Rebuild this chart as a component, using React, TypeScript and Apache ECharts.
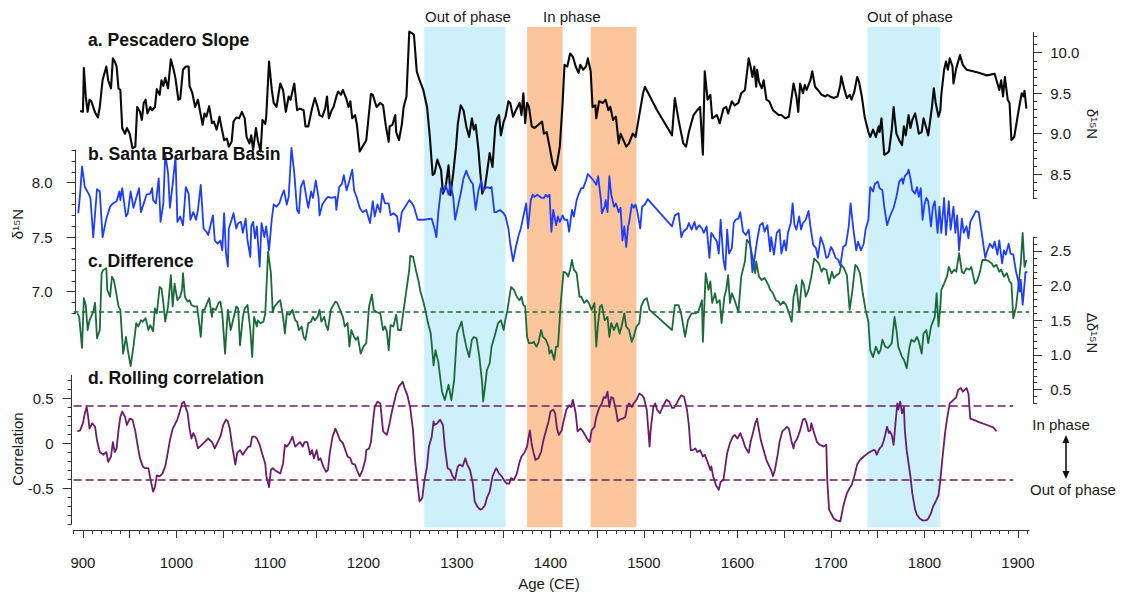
import React, { useEffect, useRef } from 'react';
import * as echarts from 'echarts';

// ---------- data ----------
const X_MIN = 890;
const X_MAX = 1912;

const pescadero: [number, number][] = [
[897,9.28],[900,9.27],[901,9.81],[903,9.46],[905,9.27],[907,9.42],[909,9.40],[913,9.26],[916,9.20],[918,9.33],[921,9.66],[925,9.83],[927,9.66],[930,9.56],[932,9.93],[934,9.89],[936,9.83],[938,9.56],[940,9.54],[942,9.07],[945,9.00],[947,9.07],[950,9.00],[953,8.82],[956,8.84],[958,9.33],[961,9.27],[963,9.17],[965,9.38],[967,9.42],[969,9.25],[972,9.33],[974,9.29],[977,9.33],[979,9.55],[982,9.48],[984,9.66],[986,9.59],[988,9.69],[991,9.56],[994,9.92],[997,9.79],[999,9.68],[1002,9.42],[1004,9.43],[1007,9.79],[1010,9.83],[1013,9.83],[1014,9.59],[1017,9.50],[1020,9.33],[1023,9.42],[1025,9.29],[1028,9.11],[1030,9.25],[1032,9.21],[1035,9.34],[1038,9.13],[1040,9.15],[1043,9.05],[1046,9.21],[1048,9.09],[1051,8.92],[1054,8.94],[1056,8.84],[1059,8.90],[1061,9.15],[1064,9.20],[1067,9.19],[1070,9.27],[1073,9.19],[1075,8.96],[1078,8.88],[1080,8.98],[1082,8.80],[1085,9.07],[1087,8.92],[1090,8.78],[1092,9.17],[1095,9.12],[1096,9.21],[1099,9.89],[1102,9.54],[1104,9.38],[1107,9.33],[1111,9.62],[1114,9.54],[1117,9.27],[1120,9.46],[1122,9.42],[1126,9.62],[1129,9.29],[1132,9.31],[1136,9.29],[1138,9.09],[1141,9.09],[1145,9.31],[1148,9.44],[1151,9.33],[1153,9.23],[1156,9.21],[1159,9.31],[1161,9.46],[1163,9.19],[1166,9.29],[1168,9.33],[1171,9.46],[1173,9.52],[1176,9.48],[1178,9.54],[1182,9.42],[1184,9.33],[1186,9.40],[1188,9.19],[1191,9.23],[1193,9.11],[1196,8.78],[1200,8.86],[1203,8.92],[1208,9.49],[1210,9.48],[1214,9.33],[1218,9.38],[1221,9.35],[1224,9.09],[1227,8.90],[1228,9.09],[1231,9.11],[1234,9.23],[1235,9.02],[1238,8.92],[1241,9.11],[1243,9.33],[1246,9.46],[1249,10.26],[1252,10.24],[1254,10.22],[1257,9.77],[1260,9.66],[1264,9.54],[1268,9.33],[1271,8.96],[1274,8.49],[1276,8.51],[1279,8.68],[1283,8.55],[1285,8.26],[1288,8.35],[1291,8.61],[1293,8.24],[1296,8.51],[1299,8.84],[1301,9.13],[1304,9.35],[1307,9.29],[1310,9.09],[1313,8.96],[1316,9.19],[1318,9.05],[1320,9.11],[1323,8.80],[1325,8.51],[1327,8.26],[1330,8.35],[1332,8.51],[1335,8.76],[1338,8.59],[1341,9.09],[1343,9.19],[1345,9.23],[1347,8.98],[1350,9.15],[1352,9.21],[1355,9.40],[1357,9.38],[1360,9.21],[1363,9.29],[1367,9.38],[1369,9.23],[1371,9.50],[1373,9.13],[1375,9.38],[1377,9.33],[1380,9.09],[1383,9.07],[1387,9.11],[1391,9.15],[1393,9.00],[1396,9.02],[1399,8.84],[1402,8.65],[1405,8.55],[1407,8.63],[1410,8.84],[1413,9.38],[1415,9.85],[1418,9.83],[1421,9.99],[1424,9.95],[1427,9.83],[1430,9.75],[1432,9.85],[1435,9.79],[1438,9.83],[1440,9.93],[1443,9.77],[1445,9.33],[1448,9.35],[1449,9.19],[1452,9.40],[1456,9.38],[1459,9.42],[1462,9.29],[1464,9.33],[1467,9.17],[1470,9.21],[1473,8.88],[1475,9.00],[1478,8.92],[1481,8.84],[1484,8.88],[1488,9.00],[1491,8.96],[1495,9.23],[1499,9.50],[1501,9.58],[1514,9.29],[1530,8.98],[1533,9.44],[1537,9.17],[1542,8.88],[1545,8.84],[1548,9.02],[1553,9.23],[1557,9.29],[1560,9.33],[1563,8.74],[1565,9.77],[1568,9.42],[1571,9.48],[1573,9.19],[1578,9.23],[1581,9.13],[1585,9.31],[1588,9.33],[1590,9.25],[1594,9.40],[1597,9.35],[1601,9.38],[1604,9.50],[1608,9.54],[1612,9.93],[1614,9.83],[1616,9.70],[1618,9.83],[1620,9.58],[1621,9.79],[1623,9.64],[1626,9.56],[1628,9.66],[1631,9.42],[1634,9.40],[1638,9.29],[1644,9.23],[1647,9.23],[1651,9.19],[1655,9.21],[1660,9.62],[1663,9.46],[1665,9.27],[1667,9.62],[1670,9.50],[1672,9.60],[1674,9.54],[1678,9.66],[1680,9.77],[1683,9.58],[1686,9.54],[1690,9.48],[1694,9.46],[1696,9.48],[1699,9.46],[1703,9.44],[1707,9.46],[1710,9.60],[1711,9.71],[1714,9.56],[1717,9.44],[1720,9.48],[1722,9.42],[1725,9.52],[1728,9.70],[1730,9.64],[1733,9.46],[1736,9.21],[1740,9.02],[1742,8.96],[1745,9.05],[1748,8.96],[1751,9.09],[1752,9.02],[1754,9.19],[1757,8.74],[1760,8.76],[1762,8.78],[1765,9.05],[1767,9.33],[1768,9.21],[1770,9.00],[1773,8.92],[1776,8.86],[1778,9.09],[1780,8.98],[1783,9.23],[1785,9.07],[1787,9.17],[1790,9.25],[1792,9.13],[1794,9.00],[1797,9.02],[1799,9.19],[1802,9.07],[1804,8.98],[1808,9.33],[1810,9.56],[1812,9.38],[1815,9.21],[1817,9.29],[1818,9.48],[1821,9.79],[1823,9.89],[1825,9.79],[1827,9.93],[1830,9.83],[1831,9.62],[1834,9.81],[1836,9.89],[1838,9.97],[1841,9.85],[1845,9.79],[1852,9.77],[1859,9.75],[1867,9.72],[1875,9.74],[1878,9.62],[1880,9.54],[1882,9.66],[1884,9.46],[1886,9.70],[1889,9.42],[1891,9.38],[1893,8.92],[1896,8.96],[1899,9.17],[1901,9.31],[1904,9.50],[1906,9.46],[1907,9.53],[1909,9.31]
];

const santaBarbara: [number, number][] = [
[895,7.72],[897,7.90],[899,8.15],[902,7.96],[906,7.90],[908,7.86],[911,7.50],[915,7.94],[918,7.92],[921,7.50],[925,7.67],[929,7.78],[932,7.81],[936,7.83],[939,7.92],[940,7.84],[942,7.95],[946,7.69],[948,7.72],[951,7.92],[954,7.77],[957,7.86],[960,7.95],[962,7.73],[965,7.81],[968,7.89],[972,7.90],[974,7.95],[975,7.84],[978,7.81],[981,8.04],[983,7.64],[986,7.81],[988,8.27],[991,8.09],[993,7.77],[996,7.99],[999,8.24],[1001,7.64],[1004,7.69],[1007,7.61],[1010,7.96],[1013,7.90],[1015,7.66],[1018,7.73],[1021,7.66],[1023,7.75],[1026,7.98],[1029,7.58],[1032,7.55],[1034,7.52],[1037,7.63],[1039,7.70],[1041,7.47],[1044,7.44],[1047,7.47],[1049,7.38],[1051,7.72],[1053,7.35],[1055,7.23],[1056,7.58],[1059,7.66],[1061,7.72],[1064,7.58],[1066,7.63],[1069,7.64],[1071,7.54],[1074,7.67],[1076,7.47],[1079,7.32],[1080,7.60],[1082,7.64],[1084,7.49],[1086,7.60],[1089,7.23],[1091,7.63],[1094,7.50],[1096,7.60],[1099,7.38],[1102,7.67],[1104,7.80],[1107,7.78],[1110,7.81],[1113,7.89],[1115,7.93],[1118,7.80],[1120,7.87],[1123,8.32],[1126,8.09],[1129,7.75],[1131,7.72],[1133,7.96],[1136,8.02],[1139,7.86],[1141,7.77],[1144,7.92],[1146,7.86],[1149,8.02],[1152,7.86],[1153,7.70],[1156,7.80],[1159,7.84],[1162,7.87],[1166,7.86],[1170,7.87],[1171,7.75],[1174,7.96],[1177,7.99],[1179,8.07],[1182,7.93],[1185,8.02],[1188,8.12],[1190,7.93],[1193,7.86],[1196,7.77],[1199,7.73],[1203,7.75],[1207,7.63],[1210,7.83],[1212,7.69],[1215,7.80],[1218,7.73],[1220,7.90],[1223,7.81],[1227,7.81],[1229,7.70],[1232,7.72],[1236,7.69],[1238,7.55],[1241,7.73],[1244,7.77],[1249,7.84],[1252,7.81],[1254,7.78],[1258,7.66],[1264,7.66],[1273,7.67],[1276,7.58],[1278,7.50],[1280,7.72],[1283,7.95],[1285,7.92],[1288,7.98],[1291,7.89],[1293,7.99],[1296,7.87],[1298,7.66],[1301,7.78],[1304,7.90],[1307,8.04],[1310,8.11],[1312,8.06],[1315,8.01],[1317,7.99],[1320,7.75],[1323,7.93],[1326,8.02],[1328,7.93],[1332,7.96],[1335,7.95],[1337,7.96],[1340,7.73],[1342,7.73],[1346,7.75],[1350,7.72],[1352,7.69],[1355,7.58],[1357,7.44],[1360,7.28],[1363,7.41],[1366,7.52],[1368,7.57],[1371,7.69],[1374,7.81],[1376,7.58],[1379,7.84],[1381,7.89],[1383,7.87],[1386,7.89],[1389,7.87],[1391,7.86],[1393,7.86],[1395,7.89],[1397,7.87],[1399,7.89],[1401,7.55],[1403,7.75],[1406,7.61],[1408,7.69],[1410,7.64],[1413,7.70],[1415,7.66],[1418,7.66],[1420,7.55],[1423,7.75],[1425,7.69],[1428,7.84],[1430,7.89],[1433,7.95],[1435,7.95],[1438,8.02],[1440,8.08],[1442,8.06],[1446,8.02],[1449,7.98],[1451,8.06],[1454,7.84],[1455,7.72],[1458,7.78],[1459,7.84],[1461,7.73],[1463,8.06],[1465,7.89],[1468,7.78],[1470,7.81],[1473,7.73],[1475,7.77],[1477,7.47],[1479,7.60],[1481,7.41],[1483,7.60],[1484,7.63],[1487,7.80],[1489,7.77],[1491,7.80],[1493,7.73],[1496,7.58],[1498,7.78],[1501,7.80],[1504,7.85],[1508,7.81],[1530,7.60],[1533,7.70],[1537,7.72],[1540,7.50],[1542,7.55],[1546,7.58],[1548,7.63],[1551,7.57],[1554,7.64],[1556,7.57],[1559,7.61],[1562,7.58],[1564,7.54],[1567,7.60],[1570,7.31],[1572,7.54],[1575,7.50],[1578,7.46],[1580,7.35],[1582,7.66],[1585,7.29],[1587,7.20],[1589,7.57],[1591,7.35],[1594,7.40],[1596,7.63],[1598,7.66],[1601,7.67],[1603,7.73],[1606,7.55],[1609,7.52],[1612,7.57],[1614,7.41],[1616,7.18],[1619,7.35],[1621,7.47],[1624,7.61],[1627,7.63],[1629,7.55],[1632,7.61],[1635,7.37],[1636,7.50],[1639,7.34],[1642,7.54],[1645,7.57],[1647,7.35],[1650,7.47],[1652,7.38],[1654,7.54],[1657,7.63],[1659,7.81],[1661,7.61],[1663,7.57],[1666,7.69],[1668,7.57],[1670,7.63],[1673,7.66],[1676,7.74],[1678,7.60],[1681,7.43],[1684,7.40],[1686,7.31],[1689,7.50],[1692,7.43],[1695,7.31],[1697,7.32],[1700,7.41],[1702,7.38],[1705,7.31],[1708,7.29],[1710,7.24],[1713,7.41],[1716,7.43],[1719,7.60],[1721,7.81],[1724,7.57],[1727,7.38],[1729,7.46],[1732,7.38],[1735,7.44],[1737,7.57],[1740,7.66],[1742,7.96],[1745,7.92],[1747,7.99],[1750,8.01],[1752,7.95],[1755,7.93],[1757,7.78],[1760,7.61],[1763,7.69],[1767,7.77],[1770,7.87],[1773,8.01],[1776,8.04],[1777,7.99],[1779,8.06],[1782,8.09],[1783,8.12],[1785,8.04],[1787,7.93],[1790,7.90],[1792,7.96],[1794,7.87],[1796,7.95],[1798,7.66],[1800,7.80],[1802,7.86],[1804,7.83],[1807,7.60],[1809,7.78],[1811,7.83],[1814,7.54],[1816,7.78],[1818,7.54],[1821,7.86],[1823,7.52],[1826,7.83],[1828,7.57],[1831,7.78],[1833,7.54],[1835,7.70],[1837,7.38],[1840,7.67],[1842,7.54],[1845,7.60],[1847,7.49],[1849,7.64],[1852,7.69],[1855,7.74],[1858,7.73],[1861,7.55],[1865,7.31],[1867,7.37],[1870,7.44],[1873,7.40],[1875,7.46],[1878,7.34],[1880,7.47],[1883,7.26],[1885,7.38],[1887,7.34],[1890,7.44],[1892,7.35],[1895,7.34],[1898,7.18],[1900,7.11],[1902,7.00],[1903,7.11],[1905,6.88],[1906,6.97],[1908,7.18],[1910,7.18]
];

const difference: [number, number][] = [
[894,1.60],[896,1.55],[899,1.10],[901,1.82],[903,1.72],[905,1.36],[907,1.50],[911,1.62],[913,1.75],[915,1.24],[918,1.36],[920,2.18],[922,2.23],[925,2.25],[926,1.94],[929,1.84],[931,2.13],[933,2.08],[935,1.94],[938,1.70],[940,1.65],[943,1.02],[946,1.26],[948,1.07],[951,0.84],[954,1.12],[957,1.46],[959,1.41],[962,1.50],[964,1.48],[967,1.53],[970,1.36],[972,1.43],[975,1.34],[977,1.67],[979,1.60],[982,1.98],[984,1.96],[986,1.75],[988,1.48],[991,1.70],[994,2.15],[996,1.70],[998,2.03],[1001,1.79],[1004,1.84],[1006,1.94],[1007,2.18],[1009,1.84],[1012,1.77],[1014,1.79],[1016,1.72],[1019,1.70],[1022,1.70],[1024,1.50],[1026,1.26],[1028,1.65],[1030,1.65],[1032,1.72],[1035,1.82],[1038,1.55],[1039,1.67],[1042,1.65],[1045,1.75],[1047,1.77],[1049,1.60],[1052,1.02],[1054,1.46],[1055,1.65],[1058,1.36],[1061,1.53],[1064,1.70],[1066,1.67],[1068,1.14],[1071,1.55],[1073,1.67],[1076,1.72],[1079,1.36],[1081,0.97],[1083,1.55],[1086,1.41],[1087,1.50],[1090,1.46],[1093,1.48],[1095,1.60],[1098,2.49],[1101,2.18],[1103,1.62],[1105,1.70],[1108,1.75],[1111,1.79],[1114,1.55],[1116,1.31],[1118,1.60],[1121,1.58],[1124,1.65],[1127,1.50],[1129,1.48],[1131,1.36],[1134,1.41],[1136,1.26],[1138,1.22],[1141,1.46],[1144,1.48],[1146,1.55],[1148,1.50],[1151,1.55],[1153,1.65],[1155,1.48],[1158,1.55],[1160,1.43],[1162,1.36],[1165,1.65],[1167,1.70],[1170,1.77],[1172,1.75],[1175,1.65],[1178,1.55],[1180,1.41],[1183,1.46],[1185,1.12],[1187,1.36],[1190,1.26],[1192,1.22],[1194,1.26],[1197,1.02],[1200,1.12],[1203,1.17],[1206,1.70],[1209,1.87],[1211,1.65],[1214,1.62],[1218,1.60],[1221,1.36],[1223,1.41],[1225,1.34],[1227,1.07],[1229,1.43],[1232,1.41],[1235,1.58],[1237,1.36],[1240,1.36],[1243,1.65],[1246,1.94],[1249,2.23],[1250,2.43],[1253,2.42],[1256,2.23],[1259,2.06],[1261,1.91],[1264,1.77],[1267,1.60],[1269,1.46],[1272,1.31],[1275,0.85],[1277,1.07],[1280,0.90],[1284,0.47],[1287,0.35],[1291,0.57],[1294,0.35],[1297,0.64],[1300,1.31],[1305,1.48],[1307,1.31],[1310,1.12],[1313,0.97],[1316,1.22],[1318,1.26],[1321,1.24],[1324,0.97],[1327,0.59],[1328,0.33],[1330,0.54],[1332,0.78],[1335,0.88],[1337,1.12],[1340,1.26],[1342,1.36],[1344,1.46],[1347,1.50],[1350,1.36],[1351,1.46],[1354,1.65],[1357,1.91],[1358,1.98],[1361,1.94],[1364,1.84],[1367,1.79],[1369,1.84],[1371,1.72],[1373,1.70],[1375,1.26],[1377,1.17],[1380,1.17],[1382,1.19],[1385,1.12],[1387,1.17],[1390,1.36],[1392,1.26],[1395,1.22],[1398,1.12],[1399,1.02],[1401,1.07],[1404,0.93],[1406,1.12],[1408,1.12],[1411,1.75],[1414,2.20],[1417,2.18],[1419,2.13],[1421,2.23],[1423,2.37],[1425,2.23],[1428,2.18],[1431,1.84],[1433,1.84],[1436,1.75],[1439,1.79],[1441,1.75],[1444,1.65],[1447,1.75],[1449,1.12],[1451,1.46],[1453,1.70],[1455,1.72],[1458,1.50],[1461,1.55],[1463,1.26],[1465,1.46],[1468,1.36],[1471,1.46],[1474,1.31],[1476,1.41],[1479,1.60],[1481,1.41],[1484,1.36],[1487,1.19],[1489,1.26],[1492,1.41],[1495,1.46],[1497,1.70],[1500,1.79],[1503,1.82],[1506,1.65],[1530,1.36],[1533,1.72],[1537,1.72],[1540,1.58],[1544,1.26],[1547,1.50],[1551,1.60],[1555,1.60],[1558,1.62],[1562,1.79],[1563,1.19],[1566,2.18],[1569,1.94],[1571,2.06],[1573,1.75],[1576,1.89],[1578,1.75],[1581,1.79],[1583,1.46],[1586,1.84],[1588,1.94],[1590,2.15],[1592,1.75],[1594,1.89],[1597,1.79],[1601,1.62],[1604,2.13],[1608,2.35],[1610,2.66],[1613,2.61],[1616,2.42],[1619,2.18],[1620,2.35],[1623,2.13],[1626,2.08],[1629,2.11],[1633,2.01],[1635,1.94],[1638,1.89],[1641,1.79],[1644,1.77],[1646,1.72],[1649,1.77],[1652,1.72],[1654,1.65],[1658,1.48],[1660,1.84],[1663,2.01],[1666,1.62],[1669,2.08],[1671,2.01],[1673,1.84],[1676,1.94],[1679,2.13],[1682,2.39],[1685,2.35],[1687,2.32],[1690,2.20],[1692,2.25],[1695,2.23],[1698,2.03],[1701,2.20],[1703,2.11],[1706,2.15],[1709,2.18],[1711,2.30],[1714,2.25],[1717,2.15],[1720,1.65],[1723,1.94],[1726,2.30],[1728,2.27],[1731,2.18],[1734,1.89],[1737,1.65],[1740,1.48],[1742,1.07],[1745,0.97],[1748,1.12],[1751,1.02],[1753,1.07],[1755,1.22],[1758,1.12],[1761,1.10],[1765,1.17],[1768,1.55],[1770,1.36],[1772,1.12],[1776,0.97],[1778,0.93],[1781,0.81],[1784,1.12],[1786,1.22],[1789,1.19],[1792,1.26],[1794,1.19],[1797,1.02],[1799,1.31],[1802,1.36],[1804,1.17],[1807,1.41],[1809,1.48],[1811,1.55],[1813,1.89],[1815,1.41],[1817,1.70],[1818,1.94],[1821,2.03],[1824,2.13],[1826,2.27],[1829,2.18],[1832,2.23],[1834,2.20],[1837,2.47],[1840,2.20],[1842,2.18],[1845,2.25],[1848,2.23],[1850,2.27],[1854,2.03],[1856,2.06],[1859,2.18],[1862,2.37],[1866,2.37],[1869,2.35],[1872,2.32],[1874,2.27],[1877,2.30],[1880,2.20],[1882,2.23],[1885,2.13],[1888,2.18],[1891,2.06],[1893,2.03],[1895,1.53],[1898,1.70],[1900,1.94],[1903,2.32],[1905,2.76],[1907,2.27],[1909,2.37]
];

const correlation: [number, number][] = [
[894,0.13],[897,0.14],[900,0.22],[902,0.33],[904,0.40],[906,0.26],[907,0.16],[910,0.22],[913,0.18],[915,0.03],[918,-0.10],[922,-0.13],[925,-0.10],[927,-0.21],[930,-0.15],[932,0.01],[934,-0.10],[936,-0.06],[938,0.14],[940,0.29],[942,0.35],[945,0.29],[947,0.20],[950,0.27],[953,0.26],[956,0.13],[959,-0.06],[961,-0.17],[964,-0.26],[966,-0.28],[970,-0.28],[972,-0.39],[975,-0.54],[977,-0.49],[979,-0.36],[982,-0.37],[985,-0.34],[988,-0.26],[990,-0.15],[993,0.03],[996,0.16],[998,0.20],[1001,0.26],[1003,0.33],[1006,0.44],[1008,0.46],[1010,0.39],[1012,0.33],[1014,0.16],[1016,0.05],[1018,0.11],[1020,0.07],[1023,-0.06],[1027,-0.02],[1030,0.01],[1034,0.05],[1038,0.01],[1041,-0.06],[1045,0.03],[1047,0.07],[1050,0.20],[1053,0.26],[1055,0.24],[1057,0.16],[1060,-0.06],[1063,-0.24],[1065,-0.11],[1068,-0.08],[1071,-0.13],[1074,-0.08],[1077,-0.04],[1079,-0.04],[1081,0.07],[1084,0.07],[1086,0.05],[1089,-0.02],[1092,-0.13],[1095,-0.23],[1096,-0.36],[1099,-0.49],[1101,-0.30],[1103,-0.28],[1105,-0.30],[1108,-0.32],[1111,-0.34],[1114,-0.23],[1116,-0.02],[1118,-0.04],[1121,0.00],[1124,0.07],[1127,-0.04],[1129,-0.02],[1132,0.01],[1135,-0.04],[1137,0.01],[1140,0.01],[1143,-0.13],[1145,-0.08],[1147,-0.17],[1150,-0.08],[1152,-0.19],[1154,-0.17],[1157,-0.26],[1160,-0.32],[1162,-0.30],[1164,-0.11],[1167,0.07],[1170,0.16],[1172,0.11],[1175,0.03],[1178,0.00],[1180,-0.06],[1183,-0.15],[1186,-0.17],[1188,-0.23],[1191,-0.24],[1193,-0.30],[1196,-0.37],[1199,-0.30],[1202,-0.19],[1203,-0.08],[1206,-0.06],[1208,0.01],[1210,0.22],[1212,0.40],[1215,0.46],[1218,0.44],[1221,0.13],[1225,0.09],[1228,0.22],[1230,0.33],[1233,0.46],[1235,0.55],[1238,0.63],[1242,0.68],[1244,0.61],[1247,0.53],[1250,0.39],[1253,0.14],[1255,-0.17],[1258,-0.47],[1260,-0.65],[1263,-0.61],[1265,-0.43],[1268,-0.26],[1270,-0.04],[1273,0.07],[1275,0.24],[1276,0.20],[1279,0.22],[1282,0.26],[1285,0.20],[1287,-0.04],[1290,-0.28],[1293,-0.30],[1295,-0.36],[1298,-0.41],[1300,-0.30],[1301,-0.26],[1303,-0.24],[1306,-0.26],[1309,-0.17],[1311,-0.24],[1314,-0.30],[1317,-0.45],[1319,-0.65],[1322,-0.71],[1325,-0.74],[1327,-0.73],[1330,-0.69],[1332,-0.61],[1335,-0.54],[1338,-0.37],[1341,-0.30],[1342,-0.28],[1345,-0.34],[1348,-0.37],[1350,-0.41],[1353,-0.45],[1356,-0.45],[1358,-0.39],[1361,-0.41],[1364,-0.34],[1367,-0.21],[1369,-0.15],[1372,-0.11],[1375,-0.04],[1376,0.03],[1378,0.14],[1380,-0.02],[1382,-0.11],[1384,-0.19],[1387,-0.17],[1390,-0.10],[1392,0.01],[1395,0.13],[1398,0.24],[1400,0.35],[1403,0.37],[1405,0.33],[1407,0.16],[1409,0.09],[1412,0.14],[1414,0.24],[1417,0.37],[1420,0.42],[1422,0.40],[1424,0.48],[1427,0.33],[1429,0.13],[1432,0.16],[1434,0.14],[1437,0.09],[1439,0.05],[1442,0.01],[1444,0.14],[1447,0.18],[1449,0.29],[1452,0.39],[1455,0.44],[1457,0.51],[1459,0.50],[1461,0.57],[1463,0.40],[1465,0.51],[1467,0.50],[1470,0.37],[1472,0.24],[1474,0.26],[1477,0.27],[1480,0.29],[1482,0.40],[1484,0.44],[1487,0.40],[1489,0.44],[1492,0.48],[1495,0.55],[1498,0.53],[1500,0.50],[1503,0.37],[1506,-0.04],[1507,0.13],[1510,0.40],[1512,0.44],[1514,0.37],[1517,0.33],[1520,0.40],[1522,0.44],[1524,0.48],[1527,0.46],[1530,0.39],[1532,0.39],[1535,0.44],[1538,0.50],[1540,0.53],[1543,0.51],[1546,0.37],[1548,0.20],[1550,-0.08],[1552,-0.08],[1555,-0.06],[1557,-0.10],[1560,-0.08],[1563,-0.15],[1565,-0.13],[1568,-0.21],[1571,-0.30],[1572,-0.26],[1574,-0.37],[1577,-0.47],[1580,-0.52],[1582,-0.43],[1585,-0.41],[1587,-0.26],[1589,-0.11],[1592,0.00],[1595,0.07],[1597,0.09],[1600,0.05],[1603,0.11],[1606,0.03],[1608,-0.04],[1612,-0.11],[1614,0.01],[1616,0.09],[1619,0.22],[1621,0.27],[1622,0.20],[1625,0.03],[1628,-0.08],[1631,-0.19],[1634,-0.26],[1636,-0.30],[1638,-0.37],[1640,-0.30],[1643,-0.13],[1645,0.01],[1648,0.13],[1651,0.16],[1653,0.18],[1655,0.16],[1658,0.01],[1660,-0.06],[1661,0.00],[1664,0.05],[1667,0.14],[1670,0.26],[1672,0.27],[1674,0.22],[1676,0.13],[1678,0.14],[1679,0.22],[1682,0.11],[1685,0.01],[1688,-0.02],[1692,-0.04],[1695,-0.02],[1696,-0.41],[1698,-0.74],[1701,-0.80],[1703,-0.84],[1706,-0.86],[1710,-0.87],[1711,-0.82],[1713,-0.71],[1715,-0.63],[1717,-0.56],[1720,-0.50],[1722,-0.47],[1725,-0.37],[1728,-0.24],[1731,-0.19],[1735,-0.15],[1740,-0.11],[1745,-0.08],[1747,-0.08],[1749,-0.13],[1752,-0.06],[1754,-0.04],[1756,0.01],[1758,0.09],[1760,0.18],[1762,0.11],[1763,0.13],[1765,0.09],[1767,-0.02],[1769,0.22],[1771,0.44],[1772,0.37],[1774,0.46],[1776,0.33],[1778,0.40],[1779,0.14],[1781,-0.08],[1783,-0.23],[1785,-0.37],[1787,-0.56],[1790,-0.74],[1792,-0.80],[1795,-0.84],[1798,-0.86],[1802,-0.86],[1804,-0.84],[1807,-0.78],[1809,-0.71],[1812,-0.65],[1815,-0.58],[1817,-0.41],[1819,-0.19],[1822,0.11],[1824,0.26],[1827,0.44],[1831,0.48],[1834,0.51],[1836,0.59],[1839,0.61],[1841,0.57],[1843,0.59],[1845,0.61],[1847,0.55],[1849,0.27],[1852,0.26],[1859,0.23],[1867,0.20],[1874,0.17],[1877,0.13]
];

const outOfPhaseBands: [number, number][] = [[1265, 1352], [1739, 1817]];
const inPhaseBands: [number, number][] = [[1375, 1413], [1443, 1492]];

const differenceMean = 1.62;
const corrThreshold = 0.41;
const corrThresholdEnd = 1895;

const xLabelValues = [900, 1000, 1100, 1200, 1300, 1400, 1500, 1600, 1700, 1800, 1900];
const aLabels = [8.5, 9.0, 9.5, 10.0];
const bLabels = [7.0, 7.5, 8.0];
const cLabels = [0.5, 1.0, 1.5, 2.0, 2.5];
const dLabels = [-0.5, 0, 0.5];

// ---------- helpers ----------
function steps(lo: number, hi: number, step: number): number[] {
  const out: number[] = [];
  const n = Math.round((hi - lo) / step);
  for (let i = 0; i <= n; i++) out.push(Math.round((lo + i * step) * 1000) / 1000);
  return out;
}

const FONT = '"Liberation Sans", Arial, Helvetica, sans-serif';
const AX = '#333';
const TXT = '#1a1a1a';

const GL = 73.6;
const GR = 1123 - 1029.2;

function grid(top: number, bottom: number) {
  return { left: GL, right: GR, top, height: bottom - top, containLabel: false };
}

function hiddenX(i: number) {
  return { type: 'value', gridIndex: i, min: X_MIN, max: X_MAX, show: false };
}

function majorY(i: number, pos: string, offset: number, min: number, max: number, labels: number[], margin: number, fmt: (v: number) => string) {
  return {
    type: 'value', gridIndex: i, position: pos, offset, min, max,
    axisLine: { show: true, onZero: false, lineStyle: { color: AX, width: 1 } },
    axisTick: { show: true, customValues: labels, length: 9, lineStyle: { color: AX, width: 1 } },
    axisLabel: { show: true, customValues: labels, margin, formatter: fmt, fontSize: 15, fontFamily: FONT, color: TXT },
    splitLine: { show: false },
  };
}

function minorY(i: number, pos: string, offset: number, min: number, max: number) {
  return {
    type: 'value', gridIndex: i, position: pos, offset, min, max,
    axisLine: { show: false, onZero: false },
    axisTick: { show: true, customValues: steps(min, max, 0.1), length: 4, lineStyle: { color: AX, width: 1 } },
    axisLabel: { show: false },
    splitLine: { show: false },
  };
}

const f1 = (v: number) => v.toFixed(1);
const fd = (v: number) => (Math.abs(v) < 1e-9 ? '0' : v.toFixed(1));

function txt(x: number, y: number, text: string, opts: any = {}) {
  return {
    type: 'text', x, y, rotation: opts.rotation || 0, z: 100,
    style: {
      text, x: 0, y: 0,
      font: opts.font || `15px ${FONT}`,
      fill: opts.fill || TXT,
      textAlign: opts.align || 'center', align: opts.align || 'center',
      textVerticalAlign: 'middle', verticalAlign: 'middle',
    },
  };
}

export default function App() {
  const ref = useRef<HTMLDivElement>(null);

  useEffect(() => {
    if (!ref.current) return;
    const chart = echarts.init(ref.current, undefined, { renderer: 'svg' });

    const yA = [8.2, 10.25];
    const yB = [6.8, 8.3];
    const yC = [0.3, 2.7];
    const yD = [-0.9, 0.75];

    const bandData: any[] = [];
    outOfPhaseBands.forEach(([a, b]) => bandData.push([{ xAxis: a, itemStyle: { color: '#cdf0fb' } }, { xAxis: b }]));
    inPhaseBands.forEach(([a, b]) => bandData.push([{ xAxis: a, itemStyle: { color: '#fcc59c' } }, { xAxis: b }]));

    const lineCommon = { type: 'line', showSymbol: false, symbol: 'none', clip: false, z: 3, silent: true, animation: false };
    const titleFont = `bold 17.6px ${FONT}`;

    const option: any = {
      animation: false,
      backgroundColor: '#ffffff',
      grid: [
        grid(27, 527.3),        // 0 bands
        grid(32.45, 198.5),     // 1 a
        grid(32.45, 198.5),     // 2 a minor
        grid(150, 313.5),       // 3 b
        grid(150, 313.5),       // 4 b minor
        grid(237.1, 403.5),     // 5 c
        grid(237.1, 403.5),     // 6 c minor
        grid(375.5, 524),       // 7 d
        grid(375.5, 524),       // 8 d minor
      ],
      xAxis: [
        hiddenX(0), hiddenX(1), hiddenX(2), hiddenX(3), hiddenX(4), hiddenX(5), hiddenX(6),
        {
          type: 'value', gridIndex: 7, min: X_MIN, max: X_MAX, position: 'bottom', offset: 6,
          axisLine: { show: true, onZero: false, lineStyle: { color: AX, width: 1 } },
          axisTick: { show: true, customValues: steps(900, 1900, 50), length: 8, lineStyle: { color: AX, width: 1 } },
          axisLabel: { show: true, customValues: xLabelValues, margin: 25, fontSize: 15, fontFamily: FONT, color: TXT, formatter: (v: number) => String(v) },
          splitLine: { show: false },
        },
        {
          type: 'value', gridIndex: 8, min: X_MIN, max: X_MAX, position: 'bottom', offset: 6,
          axisLine: { show: false, onZero: false },
          axisTick: { show: true, customValues: steps(890, 1910, 10), length: 4, lineStyle: { color: AX, width: 1 } },
          axisLabel: { show: false },
          splitLine: { show: false },
        },
      ],
      yAxis: [
        { type: 'value', gridIndex: 0, min: 0, max: 1, show: false },
        majorY(1, 'right', 4, yA[0], yA[1], aLabels, 17, f1),
        minorY(2, 'right', 4, yA[0], yA[1]),
        majorY(3, 'left', -2, yB[0], yB[1], bLabels, 23, f1),
        minorY(4, 'left', -2, yB[0], yB[1]),
        majorY(5, 'right', 4, yC[0], yC[1], cLabels, 17, f1),
        minorY(6, 'right', 4, yC[0], yC[1]),
        majorY(7, 'left', 2, yD[0], yD[1], dLabels, 18, fd),
        minorY(8, 'left', 2, yD[0], yD[1]),
      ],
      series: [
        {
          type: 'line', xAxisIndex: 0, yAxisIndex: 0, data: [[X_MIN, 0.5], [X_MAX, 0.5]],
          showSymbol: false, symbol: 'none', lineStyle: { opacity: 0 }, z: 1, silent: true,
          markArea: { silent: true, data: bandData },
        },
        {
          ...lineCommon, name: 'Pescadero Slope', xAxisIndex: 1, yAxisIndex: 1, data: pescadero,
          lineStyle: { color: '#0a0a0a', width: 2.1, join: 'round' }, itemStyle: { color: '#0a0a0a' },
        },
        {
          ...lineCommon, name: 'Difference', xAxisIndex: 5, yAxisIndex: 5, data: difference,
          lineStyle: { color: '#1b6a39', width: 1.8, join: 'round' }, itemStyle: { color: '#1b6a39' },
          markLine: {
            silent: true, symbol: 'none', label: { show: false },
            lineStyle: { color: '#1b6a39', width: 1.6, type: [5, 3.5] },
            data: [{ yAxis: differenceMean }],
          },
        },
        {
          ...lineCommon, name: 'Santa Barbara Basin', xAxisIndex: 3, yAxisIndex: 3, data: santaBarbara,
          lineStyle: { color: '#1f3dfd', width: 1.8, join: 'round' }, itemStyle: { color: '#1f3dfd' },
        },
        {
          ...lineCommon, name: 'Rolling correlation', xAxisIndex: 7, yAxisIndex: 7, data: correlation,
          lineStyle: { color: '#6b1d6c', width: 1.8, join: 'round' }, itemStyle: { color: '#6b1d6c' },
          markLine: {
            silent: true, symbol: 'none', label: { show: false },
            lineStyle: { color: '#6b1d6c', width: 1.6, type: [8, 4] },
            data: [
              [{ coord: [X_MIN, corrThreshold] }, { coord: [corrThresholdEnd, corrThreshold] }],
              [{ coord: [X_MIN, -corrThreshold] }, { coord: [corrThresholdEnd, -corrThreshold] }],
            ],
          },
        },
      ],
      graphic: [
        txt(88, 40, 'a. Pescadero Slope', { align: 'left', font: titleFont, fill: '#111' }),
        txt(88, 154, 'b. Santa Barbara Basin', { align: 'left', font: titleFont, fill: '#111' }),
        txt(88, 261, 'c. Difference', { align: 'left', font: titleFont, fill: '#111' }),
        txt(88, 378, 'd. Rolling correlation', { align: 'left', font: titleFont, fill: '#111' }),
        txt(425, 16, 'Out of phase', { align: 'left' }),
        txt(543, 16, 'In phase', { align: 'left' }),
        txt(867, 16, 'Out of phase', { align: 'left' }),
        txt(17.5, 224, 'δ¹⁵N', { rotation: Math.PI / 2 }),
        txt(17.5, 449, 'Correlation', { rotation: Math.PI / 2 }),
        txt(1092, 124, 'δ¹⁵N', { rotation: -Math.PI / 2 }),
        txt(1092, 333, 'Δδ¹⁵N', { rotation: -Math.PI / 2 }),
        txt(549, 583, 'Age (CE)'),
        txt(1061, 424, 'In phase'),
        txt(1073, 489, 'Out of phase'),
        { type: 'line', z: 100, shape: { x1: 1066, y1: 441, x2: 1066, y2: 473 }, style: { stroke: '#111', lineWidth: 1.6 } },
        { type: 'polygon', z: 100, shape: { points: [[1066, 435], [1062.5, 443], [1069.5, 443]] }, style: { fill: '#111' } },
        { type: 'polygon', z: 100, shape: { points: [[1066, 479], [1062.5, 471], [1069.5, 471]] }, style: { fill: '#111' } },
      ],
    };

    chart.setOption(option);
    return () => chart.dispose();
  }, []);

  return (
    <div
      ref={ref}
      style={{ position: 'fixed', left: 0, top: 0, width: 1123, height: 594, background: '#fff' }}
    />
  );
}
